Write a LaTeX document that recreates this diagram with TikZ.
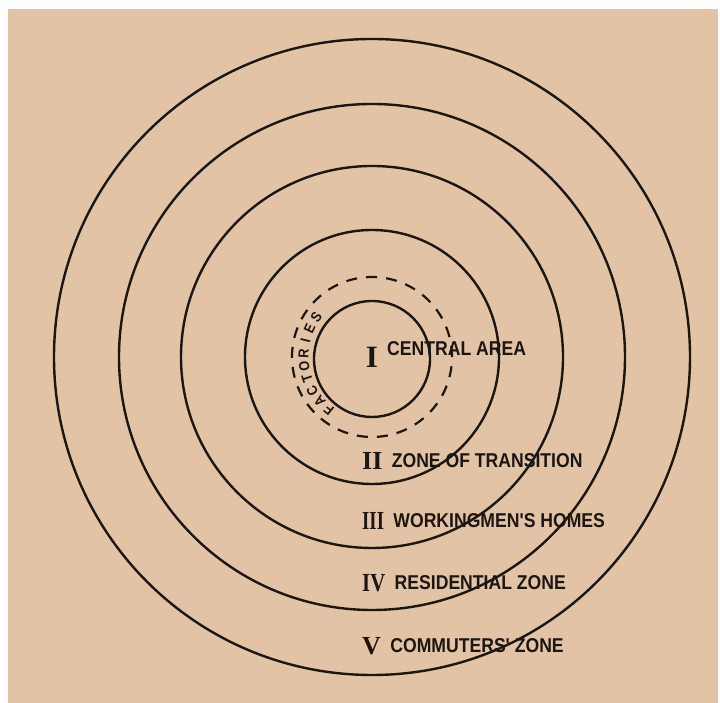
\documentclass[tikz,border=0pt]{standalone}
\usepackage{fontspec}
\newfontfamily\handfont[FakeStretch=0.88]{Liberation Sans}
\newfontfamily\numfont{Liberation Serif}
\usepackage{xcolor}
\definecolor{paper}{HTML}{E2C3A6}
\definecolor{ink}{HTML}{1C1612}
\usepackage{tikz}
\usetikzlibrary{positioning}
\tikzset{
  ring/.style      = {draw=ink, line width=2.4pt},
  dashring/.style  = {draw=ink, line width=2.2pt, dash pattern=on 11pt off 9.1pt},
  numeral/.style   = {inner sep=0pt, text=ink, font=\numfont\bfseries\fontsize{26}{26}\selectfont},
  zonelabel/.style = {inner sep=0pt, text=ink, font=\handfont\bfseries\fontsize{20}{20}\selectfont},
  factory/.style   = {inner sep=0pt, text=ink, font=\handfont\bfseries\fontsize{14.5}{14.5}\selectfont}
}

\begin{document}
\begin{tikzpicture}[x=1pt, y=1pt, node distance=9pt]
  % sheet
  \useasboundingbox (0,0) rectangle (720,703);
  \fill[white] (0,0) rectangle (720,703);
  \fill[paper] (8,0) rectangle (718,694);
  \coordinate (ctr) at (372,346);

  % rings
  \draw[ring] (372,344) circle (58);
  \draw[dashring] (ctr) circle (80);
  \foreach \r in {127,191,253,318}
    \draw[ring] (ctr) circle (\r);

  % factories, round the inner ring
  \begin{scope}[shift={(ctr)}]
    \foreach \ch [count=\k] in {F,A,C,T,O,R,I,E,S} {
      \pgfmathsetmacro\ang{231-(\k-1)*10.8}
      \node[factory, rotate=\ang-90] (f\k) at (\ang:68.5) {\ch};
    }
  \end{scope}

  % zone names
  \node[numeral, font=\numfont\bfseries\fontsize{31}{31}\selectfont] (n1) at (372,346) {I};
  \node[zonelabel, anchor=base west] (t1) at (387,347) {CENTRAL AREA};

  \node[numeral, anchor=west] (n2) at (362,242) {II};
  \node[zonelabel, right=of n2] (t2) {ZONE OF TRANSITION};

  \node[numeral, anchor=west] (n3) at (362,182) {\scalebox{0.72}[1]{III}};
  \node[zonelabel, right=of n3] (t3) {WORKINGMEN'S HOMES};

  \node[numeral, anchor=west] (n4) at (362,120) {\scalebox{0.8}[1]{IV}};
  \node[zonelabel, right=of n4] (t4) {RESIDENTIAL ZONE};

  \node[numeral, anchor=west] (n5) at (362,57) {V};
  \node[zonelabel, right=of n5] (t5) {COMMUTERS' ZONE};
\end{tikzpicture}
\end{document}
